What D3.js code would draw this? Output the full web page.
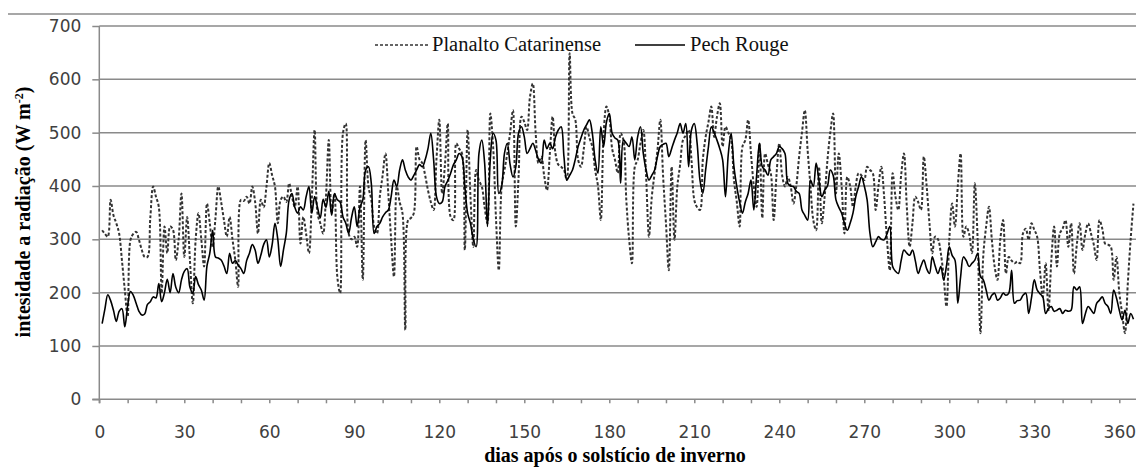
<!DOCTYPE html>
<html>
<head>
<meta charset="utf-8">
<script src="https://cdn.jsdelivr.net/npm/d3@7"></script>
<style>
  body { margin: 0; background: #fff; }
  .tick text { font-family: "DejaVu Sans", sans-serif; font-size: 17px; fill: #404040; }
  .t-title { font-family: "Liberation Serif", serif; font-weight: bold; font-size: 20px; fill: #000; }
  .t-leg { font-family: "Liberation Serif", serif; font-size: 20.5px; fill: #111; }
</style>
</head>
<body>
<svg id="chart" width="1136" height="467"></svg>
<script>
// daily mean radiation intensity, days 1..365 after winter solstice
var planalto = [
  317, 310, 305, 374, 345, 330, 311, 260, 205, 155,
  299, 310, 314, 299, 280, 267, 267, 340, 399, 380,
  361, 199, 324, 274, 324, 318, 261, 300, 386, 267,
  342, 260, 180, 299, 349, 300, 249, 367, 330, 286,
  340, 399, 370, 336, 305, 342, 300, 261, 211, 374,
  372, 380, 367, 399, 370, 311, 374, 360, 399, 443,
  420, 399, 330, 374, 380, 370, 405, 380, 361, 399,
  292, 342, 310, 274, 374, 505, 349, 330, 311, 380,
  486, 349, 386, 230, 199, 499, 517, 311, 300, 305,
  286, 399, 224, 486, 399, 374, 324, 311, 380, 420,
  461, 386, 300, 230, 399, 370, 349, 130, 336, 340,
  349, 474, 450, 443, 420, 392, 370, 355, 450, 524,
  386, 440, 517, 342, 336, 480, 470, 461, 280, 505,
  380, 286, 430, 410, 399, 360, 330, 536, 474, 340,
  242, 399, 430, 461, 500, 542, 324, 420, 530, 520,
  505, 567, 592, 500, 443, 455, 420, 392, 460, 530,
  461, 440, 436, 430, 411, 649, 536, 524, 449, 436,
  470, 511, 490, 474, 430, 400, 336, 499, 549, 530,
  470, 449, 424, 499, 486, 374, 300, 255, 436, 449,
  480, 505, 417, 305, 380, 424, 467, 524, 417, 330,
  242, 436, 299, 399, 440, 486, 495, 505, 449, 374,
  360, 355, 449, 492, 520, 549, 492, 530, 555, 474,
  511, 500, 486, 411, 370, 324, 474, 486, 524, 461,
  400, 361, 480, 340, 461, 440, 424, 336, 420, 480,
  420, 399, 417, 400, 367, 400, 455, 500, 542, 467,
  400, 336, 317, 436, 330, 380, 449, 500, 536, 386,
  461, 400, 311, 417, 400, 361, 400, 424, 420, 411,
  436, 430, 424, 355, 400, 436, 380, 300, 242, 424,
  380, 355, 420, 461, 361, 286, 330, 380, 370, 355,
  455, 400, 330, 274, 305, 300, 274, 230, 174, 300,
  367, 324, 400, 461, 305, 324, 310, 274, 405, 300,
  124, 270, 324, 361, 300, 249, 224, 300, 336, 236,
  267, 260, 255, 258, 255, 311, 320, 299, 330, 318,
  305, 242, 192, 255, 167, 260, 324, 249, 311, 320,
  336, 286, 330, 236, 290, 330, 280, 310, 330, 311,
  290, 261, 336, 320, 292, 290, 286, 224, 267, 200,
  161, 124, 217, 300, 367
];

var pechRouge = [
  142, 170, 196, 185, 167, 146, 165, 170, 136, 175,
  202, 195, 180, 165, 158, 160, 178, 183, 192, 190,
  217, 183, 200, 225, 200, 236, 210, 200, 224, 240,
  245, 210, 199, 230, 215, 205, 186, 250, 274, 317,
  267, 265, 261, 250, 236, 274, 255, 260, 252, 245,
  236, 260, 274, 290, 280, 255, 270, 290, 299, 267,
  290, 330, 300, 249, 280, 311, 374, 386, 360, 349,
  361, 355, 380, 399, 349, 380, 360, 340, 375, 360,
  390, 345, 386, 374, 370, 342, 330, 311, 340, 361,
  324, 360, 374, 430, 436, 405, 311, 324, 330, 342,
  350, 355, 380, 411, 399, 430, 449, 430, 417, 411,
  420, 430, 440, 436, 449, 470, 499, 449, 380, 367,
  370, 399, 410, 424, 440, 449, 461, 455, 400, 349,
  330, 300, 286, 461, 486, 443, 324, 450, 499, 486,
  386, 399, 461, 480, 440, 417, 436, 500, 511, 492,
  461, 470, 480, 467, 450, 443, 486, 470, 480, 470,
  492, 505, 511, 455, 411, 420, 430, 450, 474, 490,
  505, 515, 524, 499, 449, 424, 511, 474, 520, 536,
  499, 490, 486, 405, 486, 480, 474, 492, 449, 492,
  511, 461, 430, 411, 420, 430, 455, 474, 478, 480,
  455, 470, 486, 500, 517, 499, 517, 436, 505, 517,
  480, 411, 386, 430, 474, 511, 500, 486, 470, 449,
  380, 460, 499, 436, 399, 370, 349, 370, 386, 411,
  355, 420, 480, 436, 430, 420, 449, 455, 461, 474,
  470, 461, 405, 400, 399, 390, 386, 355, 345, 336,
  411, 399, 443, 410, 380, 392, 400, 430, 420, 374,
  360, 349, 330, 317, 330, 349, 380, 399, 417, 400,
  374, 311, 286, 295, 305, 300, 299, 310, 324, 249,
  240, 236, 260, 280, 274, 270, 280, 260, 236, 250,
  261, 245, 236, 267, 250, 236, 249, 224, 250, 286,
  270, 261, 180, 230, 267, 260, 249, 255, 261, 274,
  230, 224, 205, 186, 195, 199, 186, 190, 199, 195,
  199, 242, 180, 185, 186, 195, 199, 161, 190, 224,
  205, 198, 192, 161, 170, 174, 165, 167, 170, 161,
  167, 165, 167, 211, 205, 211, 142, 160, 174, 168,
  161, 180, 186, 192, 180, 174, 161, 205, 190, 167,
  149, 167, 142, 161, 150
];

var yTicks = [0, 100, 200, 300, 400, 500, 600, 700];
var seriesNames = ["Planalto Catarinense", "Pech Rouge"];

var svg = d3.select("#chart");

var x = d3.scaleLinear().domain([0, 366]).range([99.3, 1136.3]);
var y = d3.scaleLinear().domain([0, 700]).range([399.3, 26]);

// top border
svg.append("line")
  .attr("x1", 8).attr("x2", 1136)
  .attr("y1", 14).attr("y2", 14)
  .attr("stroke", "#8a8a8a").attr("stroke-width", 1.5);

// grid
svg.append("g")
  .selectAll("line")
  .data(yTicks.slice(1))
  .enter().append("line")
  .attr("x1", x(0)).attr("x2", 1136)
  .attr("y1", function(d) { return y(d); })
  .attr("y2", function(d) { return y(d); })
  .attr("stroke", "#8a8a8a").attr("stroke-width", 1.5);

var yAxis = svg.append("g")
  .attr("transform", "translate(" + x(0) + ",0)")
  .call(d3.axisLeft(y).tickValues(yTicks).tickSize(7).tickPadding(11));
yAxis.select(".domain").remove();
yAxis.selectAll(".tick line").attr("stroke", "#8a8a8a").attr("stroke-width", 1.5);
yAxis.append("line")
  .attr("x1", 0).attr("x2", 0)
  .attr("y1", y(700)).attr("y2", y(0) + 4)
  .attr("stroke", "#8a8a8a").attr("stroke-width", 1.5);

var xAxis = svg.append("g")
  .attr("transform", "translate(0," + y(0) + ")")
  .call(d3.axisBottom(x)
    .tickValues(d3.range(0, 361, 10))
    .tickSize(4).tickPadding(23)
    .tickFormat(function(d) { return d % 30 === 0 ? d : ""; }));
xAxis.select(".domain").remove();
xAxis.selectAll(".tick line").attr("stroke", "#8a8a8a").attr("stroke-width", 1.5);
xAxis.append("line")
  .attr("x1", x(0) - 7).attr("x2", 1136)
  .attr("y1", 0).attr("y2", 0)
  .attr("stroke", "#8a8a8a").attr("stroke-width", 1.5);

var line = d3.line()
  .x(function(d, i) { return x(i + 1); })
  .y(function(d) { return y(d); })
  .curve(d3.curveCatmullRom);

svg.append("path")
  .datum(planalto)
  .attr("fill", "none")
  .attr("stroke", "#333")
  .attr("stroke-width", 2)
  .attr("stroke-dasharray", "3,2")
  .attr("d", line);

svg.append("path")
  .datum(pechRouge)
  .attr("fill", "none")
  .attr("stroke", "#000")
  .attr("stroke-width", 1.6)
  .attr("d", line);

// legend
var leg = svg.append("g");
leg.append("line")
  .attr("x1", 375).attr("x2", 428).attr("y1", 45).attr("y2", 45)
  .attr("stroke", "#333").attr("stroke-width", 1.5).attr("stroke-dasharray", "3,2");
leg.append("text").attr("class", "t-leg")
  .attr("x", 432).attr("y", 51).text(seriesNames[0]);
leg.append("line")
  .attr("x1", 635).attr("x2", 685).attr("y1", 45).attr("y2", 45)
  .attr("stroke", "#000").attr("stroke-width", 1.5);
leg.append("text").attr("class", "t-leg")
  .attr("x", 690).attr("y", 51).text(seriesNames[1]);

// axis titles
var yt = svg.append("text")
  .attr("class", "t-title")
  .attr("transform", "translate(30,212) rotate(-90)")
  .attr("text-anchor", "middle");
yt.append("tspan").text("intesidade a radiação (W m");
yt.append("tspan").attr("dy", -7).style("font-size", "12px").text("-2");
yt.append("tspan").attr("dy", 7).text(")");

svg.append("text")
  .attr("class", "t-title")
  .attr("x", 615).attr("y", 462)
  .attr("text-anchor", "middle")
  .text("dias após o solstício de inverno");
</script>
</body>
</html>
